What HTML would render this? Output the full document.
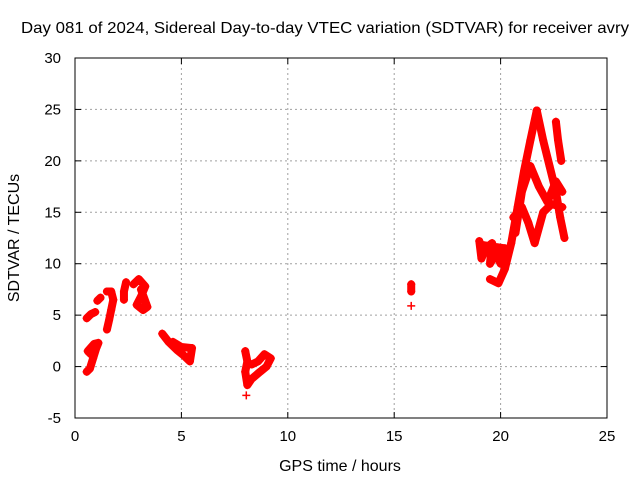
<!DOCTYPE html>
<html><head><meta charset="utf-8"><style>
body{margin:0;background:#fff}
svg{display:block;font-family:"Liberation Sans",sans-serif}
</style></head><body>
<svg id="chart" width="640" height="480">
<rect width="640" height="480" fill="#fff"/>
<text x="325" y="33" text-anchor="middle" font-size="16" textLength="608" lengthAdjust="spacingAndGlyphs">Day 081 of 2024, Sidereal Day-to-day VTEC variation (SDTVAR) for receiver avry</text>
<text x="340" y="471" text-anchor="middle" font-size="16">GPS time / hours</text>
<text transform="translate(19,238) rotate(-90)" text-anchor="middle" font-size="16">SDTVAR / TECUs</text>
<g id="grid"></g><g id="marks"></g><g id="axes"></g>
</svg>
<script>
const xTicks=[0,5,10,15,20,25];
const yTicks=[-5,0,5,10,15,20,25,30];
const trackA=[[0.55,-0.5],[0.7,-0.2],[0.85,0.8],[1.0,1.8],[1.1,2.3],[0.9,2.2],[0.6,1.5],[0.75,1.2]];
const trackB=[[0.55,4.7],[0.75,5.1],[0.95,5.3]];
const trackC=[[1.05,6.4],[1.2,6.7]];
const trackD=[[1.5,3.6],[1.6,4.5],[1.7,5.5],[1.8,6.5],[1.7,7.3],[1.5,7.3]];
const trackE=[[2.3,6.5],[2.3,7.3],[2.4,8.2]];
const trackF=[[2.75,8.0],[3.0,8.5],[3.3,7.8],[3.1,6.8],[2.9,6.0],[3.2,5.5],[3.4,5.8],[3.1,7.5]];
const trackG=[[4.1,3.2],[4.4,2.4],[4.8,1.6],[5.1,1.1],[5.4,0.5],[5.5,1.8],[5.0,1.9],[4.6,2.4]];
const trackH=[[8.0,1.5],[8.1,0.5],[8.0,-0.5],[8.1,-1.8],[8.3,-1.2],[8.7,-0.5],[9.0,0],[9.2,0.8],[8.9,1.2],[8.6,0.5],[8.3,0.2]];
const trackH2=[[8.05,-2.8]];
const trackI=[[15.8,8.0],[15.8,7.3]];
const trackI2=[[15.8,5.9]];
const trackR0=[[19.0,12.2],[19.1,10.5],[19.3,11.5],[19.6,12],[19.5,10],[19.8,11],[20.0,10],[20.2,11.5],[19.2,11.8]];
const trackR1=[[19.5,8.5],[19.9,8.1],[20.2,9.5],[20.5,12],[20.8,15.5],[21.1,19],[21.4,22],[21.7,24.9]];
const trackR2=[[21.7,24.9],[22.0,22],[22.3,19.5],[22.6,17],[22.8,14.5],[23.0,12.5]];
const trackR3=[[20.7,13],[21.0,17],[21.4,19.5],[21.8,17.5],[22.2,16],[22.6,18],[22.9,17]];
const trackR4=[[20.6,14.5],[21.0,15.5],[21.3,14],[21.6,12],[22.0,15],[22.4,15.8],[22.9,15.5]];
const trackR5=[[22.6,23.8],[22.7,22],[22.85,20]];
const tracks=[trackA,trackB,trackC,trackD,trackE,trackF,trackG,trackH,trackH2,trackI,trackI2,trackR0,trackR1,trackR2,trackR3,trackR4,trackR5];

const L=75,R=607,T=58,B=418,xMin=0,xMax=25,yMin=-5,yMax=30;
const X=v=>L+(v-xMin)/(xMax-xMin)*(R-L);
const Y=v=>B-(v-yMin)/(yMax-yMin)*(B-T);
const NS="http://www.w3.org/2000/svg";
function mk(tag,parent,attrs){const e=document.createElementNS(NS,tag);for(const k in attrs)e.setAttribute(k,attrs[k]);parent.appendChild(e);return e;}
const grid=document.getElementById('grid'),marks=document.getElementById('marks'),axes=document.getElementById('axes');
xTicks.forEach(t=>{
  if(t>xMin&&t<xMax){const g=mk('line',grid,{x1:X(t),x2:X(t),y1:T,y2:B,stroke:'#a0a0a0','stroke-dasharray':'2,3'});
  
  }
  mk('line',axes,{x1:X(t),x2:X(t),y1:B,y2:B-6,stroke:'#000'});
  mk('line',axes,{x1:X(t),x2:X(t),y1:T,y2:T+6,stroke:'#000'});
  const tx=mk('text',axes,{x:X(t),y:B+23,'text-anchor':'middle','font-size':15});
  tx.textContent=t;
  
  
});
yTicks.forEach(t=>{
  if(t>yMin&&t<yMax){const g=mk('line',grid,{x1:L,x2:R,y1:Y(t),y2:Y(t),stroke:'#a0a0a0','stroke-dasharray':'2,3'});
  
  }
  mk('line',axes,{x1:L,x2:L+6,y1:Y(t),y2:Y(t),stroke:'#000'});
  mk('line',axes,{x1:R,x2:R-6,y1:Y(t),y2:Y(t),stroke:'#000'});
  const tx=mk('text',axes,{x:L-14,y:Y(t)+5,'text-anchor':'end','font-size':15});
  tx.textContent=t;
  
  
});
const frame=mk('rect',axes,{x:L,y:T,width:R-L,height:B-T,fill:'none',stroke:'#000','stroke-width':1});


tracks.forEach(tr=>{
  if(tr.length>1){
    const p=mk('polyline',marks,{points:tr.map(d=>X(d[0])+','+Y(d[1])).join(' '),fill:'none',stroke:'#ff0000','stroke-width':8,'stroke-linejoin':'round','stroke-linecap':'round'});
    
    
  }
  tr.forEach(d=>{
    const cx=X(d[0]),cy=Y(d[1]);
    const m=mk('path',marks,{d:`M${cx-4},${cy}H${cx+4}M${cx},${cy-4}V${cy+4}`,stroke:'#ff0000','stroke-width':1.5});
    
    
  });
});
</script>
</body></html>
